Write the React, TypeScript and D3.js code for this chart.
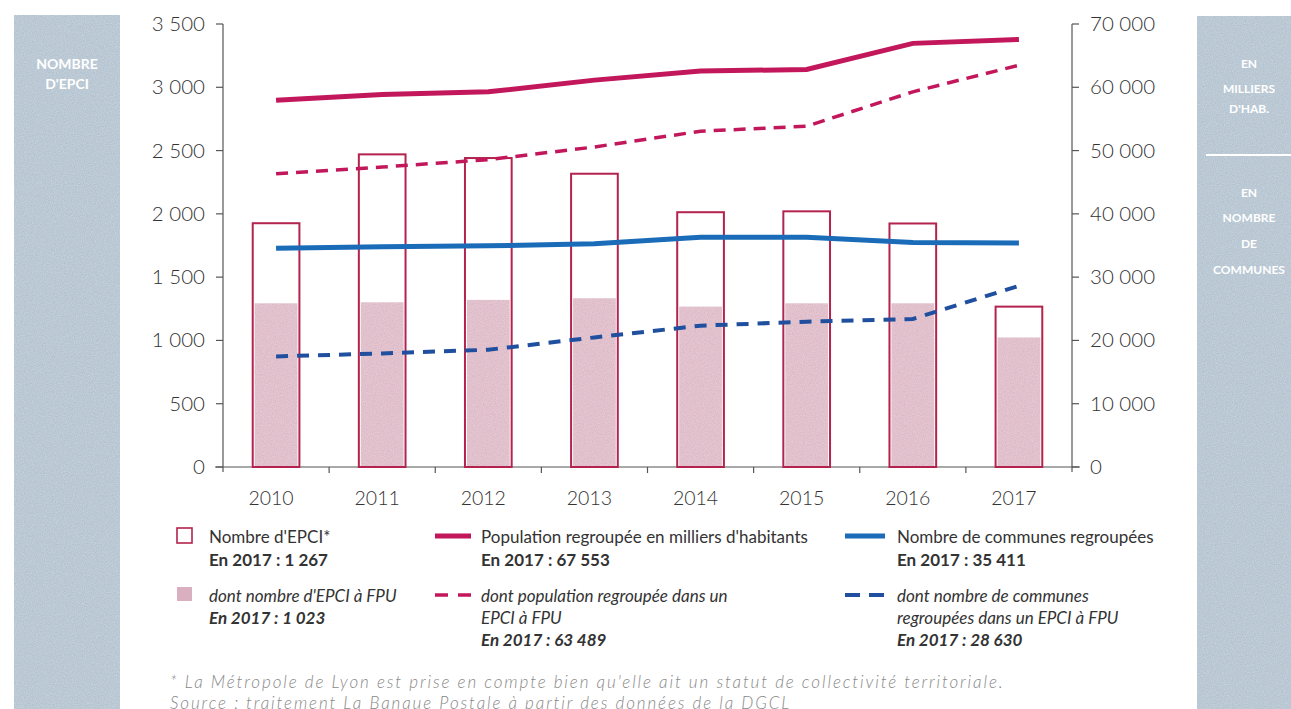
import React from "react";
import * as d3 from "d3";

// Years and series
const years = ["2010", "2011", "2012", "2013", "2014", "2015", "2016", "2017"];
const epciTotal = [1926, 2470, 2441, 2317, 2013, 2020, 1924, 1267];
const epciFpu = [1293, 1301, 1320, 1333, 1267, 1293, 1293, 1023];
const population = [57970, 58870, 59280, 61130, 62560, 62820, 66940, 67553];
const populationFpu = [46350, 47400, 48570, 50570, 53060, 53850, 59280, 63489];
const communes = [34570, 34790, 34950, 35270, 36320, 36320, 35480, 35411];
const communesFpu = [17470, 17950, 18530, 20480, 22330, 22960, 23390, 28630];

const leftTicks = [0, 500, 1000, 1500, 2000, 2500, 3000, 3500];
const rightTicks = [0, 10000, 20000, 30000, 40000, 50000, 60000, 70000];

const W = 1291;
const H = 709;
const X0 = 223;
const X1 = 1072;
const Y0 = 467;
const Y1 = 24;

const fr = d3.formatLocale({ decimal: ",", thousands: " ", grouping: [3], currency: ["", " €"] });
const fmt = fr.format(",d");

const RED = "#b3234d";
const POP = "#c2185b";
const FILL = "#dab0c0";
const BLUE = "#1a6cb8";
const BLUE_D = "#1f4f9e";
const PANEL = "#a8bbca";
const TXT = "#333";
const FONT = "Lato, 'Open Sans', sans-serif";

export default function App() {
  const x = d3.scaleBand<string>().domain(years).range([X0, X1]).paddingInner(0.56).paddingOuter(0.28);
  const yL = d3.scaleLinear().domain([0, 3500]).range([Y0, Y1]);
  const yR = d3.scaleLinear().domain([0, 70000]).range([Y0, Y1]);
  const cx = (i: number) => (x(years[i]) as number) + x.bandwidth() / 2;
  const line = d3
    .line<number>()
    .x((_, i) => cx(i))
    .y((v) => yR(v));
  const boundaries = d3.range(years.length + 1).map((i) => X0 + i * ((X1 - X0) / years.length));

  const legendText = (xx: number, yy: number, t: string, opts: { bold?: boolean; italic?: boolean } = {}) => (
    <text
      x={xx}
      y={yy}
      fontFamily={FONT}
      fontSize={17}
      fill={TXT}
      fontWeight={opts.bold ? 700 : 400}
      fontStyle={opts.italic ? "italic" : "normal"}
    >
      {t}
    </text>
  );

  return (
    <svg
      width={W}
      height={H}
      viewBox={`0 0 ${W} ${H}`}
      style={{ position: "absolute", left: 0, top: 0, background: "#fff" }}
    >
      <defs>
        <filter id="grain" x="0" y="0" width="100%" height="100%">
          <feTurbulence type="fractalNoise" baseFrequency="0.9" numOctaves="2" seed="3" result="n" />
          <feColorMatrix
            in="n"
            type="matrix"
            values="0 0 0 0 1  0 0 0 0 1  0 0 0 0 1  0 0 0 0.35 0"
            result="w"
          />
          <feComposite in="w" in2="SourceGraphic" operator="in" result="wm" />
          <feMerge>
            <feMergeNode in="SourceGraphic" />
            <feMergeNode in="wm" />
          </feMerge>
        </filter>
      </defs>

      {/* side panels */}
      <rect x={14} y={15} width={106} height={H - 15} fill={PANEL} filter="url(#grain)" />
      <g fontFamily={FONT} fontWeight={700} fontSize={14} fill="#fff" textAnchor="middle">
        <text x={67} y={69}>NOMBRE</text>
        <text x={67} y={89}>D'EPCI</text>
      </g>
      <rect x={1197} y={16} width={W - 1197} height={H - 16} fill={PANEL} filter="url(#grain)" />
      <g fontFamily={FONT} fontWeight={700} fontSize={12} fill="#fff" textAnchor="middle">
        <text x={1249} y={68}>EN</text>
        <text x={1249} y={93}>MILLIERS</text>
        <text x={1249} y={113}>D'HAB.</text>
        <text x={1249} y={197}>EN</text>
        <text x={1249} y={222}>NOMBRE</text>
        <text x={1249} y={248}>DE</text>
        <text x={1249} y={274}>COMMUNES</text>
      </g>
      <line x1={1206} x2={W} y1={155} y2={155} stroke="#fff" strokeWidth={2} />

      {/* axes */}
      <g stroke="#555" strokeWidth={1.2}>
        <line x1={X0} x2={X0} y1={Y1} y2={Y0 + 5} />
        <line x1={X1} x2={X1} y1={Y1} y2={Y0 + 5} />
        <line x1={X0 - 8} x2={X1 + 8} y1={Y0} y2={Y0} />
        {leftTicks.map((t) => (
          <line key={t} x1={X0 - 7} x2={X0} y1={yL(t)} y2={yL(t)} />
        ))}
        {rightTicks.map((t) => (
          <line key={t} x1={X1} x2={X1 + 7} y1={yR(t)} y2={yR(t)} />
        ))}
        {boundaries.slice(1, -1).map((b, i) => (
          <line key={i} x1={b} x2={b} y1={Y0} y2={Y0 + 6} />
        ))}
      </g>
      <g fontFamily={FONT} fontWeight={300} fontSize={20.5} fill={TXT}>
        {leftTicks.map((t) => (
          <text key={t} x={X0 - 18} y={yL(t) + 7} textAnchor="end">
            {fmt(t)}
          </text>
        ))}
        {rightTicks.map((t) => (
          <text key={t} x={X1 + 18} y={yR(t) + 7} textAnchor="start">
            {fmt(t)}
          </text>
        ))}
      </g>
      <g fontFamily={FONT} fontWeight={300} fontSize={19.5} fill={TXT}>
        {years.map((yr, i) => (
          <text key={yr} x={cx(i) - 5} y={505} textAnchor="middle">
            {yr}
          </text>
        ))}
      </g>

      {/* bars */}
      {years.map((yr, i) => {
        const bx = x(yr) as number;
        const bw = x.bandwidth();
        return (
          <g key={yr}>
            <rect
              x={bx + 2}
              y={yL(epciFpu[i])}
              width={bw - 4}
              height={Y0 - yL(epciFpu[i])}
              fill={FILL}
              filter="url(#grain)"
            />
            <rect
              x={bx}
              y={yL(epciTotal[i])}
              width={bw}
              height={Y0 - yL(epciTotal[i])}
              fill="none"
              stroke={RED}
              strokeWidth={2}
            />
          </g>
        );
      })}

      {/* lines */}
      <path d={line(population) as string} fill="none" stroke={POP} strokeWidth={5} />
      <path d={line(populationFpu) as string} fill="none" stroke={POP} strokeWidth={3.5} strokeDasharray="12 8" />
      <path d={line(communes) as string} fill="none" stroke={BLUE} strokeWidth={5} />
      <path d={line(communesFpu) as string} fill="none" stroke={BLUE_D} strokeWidth={4} strokeDasharray="12 9" />

      {/* legend */}
      <rect x={177} y={528} width={15} height={15} fill="none" stroke={RED} strokeWidth={1.6} />
      {legendText(209, 543, "Nombre d'EPCI*")}
      {legendText(209, 566, "En 2017 : 1 267", { bold: true })}
      <rect x={177} y={587} width={15} height={14} fill={FILL} />
      {legendText(209, 602, "dont nombre d'EPCI à FPU", { italic: true })}
      {legendText(209, 624, "En 2017 : 1 023", { bold: true, italic: true })}

      <line x1={435} x2={471} y1={536} y2={536} stroke={POP} strokeWidth={5} />
      {legendText(481, 543, "Population regroupée en milliers d'habitants")}
      {legendText(481, 566, "En 2017 : 67 553", { bold: true })}
      <line x1={435} x2={471} y1={595} y2={595} stroke={POP} strokeWidth={3.5} strokeDasharray="13 10" />
      {legendText(481, 602, "dont population regroupée dans un", { italic: true })}
      {legendText(481, 624, "EPCI à FPU", { italic: true })}
      {legendText(481, 646, "En 2017 : 63 489", { bold: true, italic: true })}

      <line x1={845} x2={885} y1={536} y2={536} stroke={BLUE} strokeWidth={5} />
      {legendText(897, 543, "Nombre de communes regroupées")}
      {legendText(897, 566, "En 2017 : 35 411", { bold: true })}
      <line x1={845} x2={885} y1={595} y2={595} stroke={BLUE_D} strokeWidth={4} strokeDasharray="15 9" />
      {legendText(897, 602, "dont nombre de communes", { italic: true })}
      {legendText(897, 624, "regroupées dans un EPCI à FPU", { italic: true })}
      {legendText(897, 646, "En 2017 : 28 630", { bold: true, italic: true })}

      {/* notes */}
      <g fontFamily={FONT} fontWeight={300} fontStyle="italic" fontSize={17} letterSpacing={1.9} fill="#888">
        <text x={170} y={688}>
          * La Métropole de Lyon est prise en compte bien qu'elle ait un statut de collectivité territoriale.
        </text>
        <text x={170} y={709}>Source : traitement La Banque Postale à partir des données de la DGCL</text>
      </g>
    </svg>
  );
}
